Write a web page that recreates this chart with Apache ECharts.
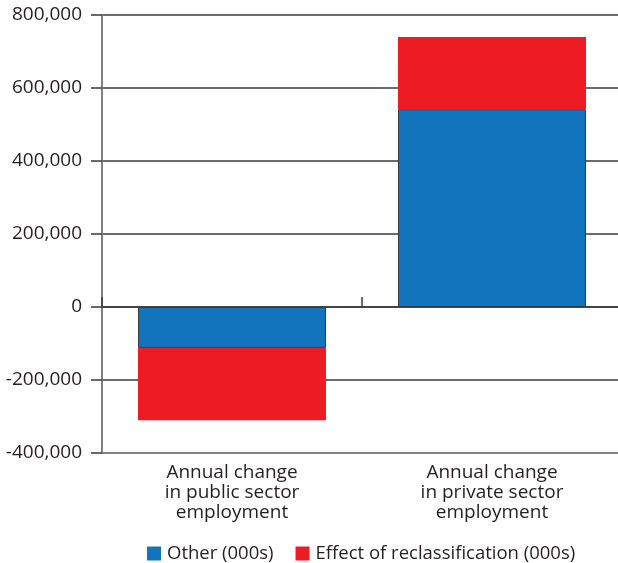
<!DOCTYPE html>
<html>
<head>
<meta charset="utf-8">
<style>
  html, body { margin: 0; padding: 0; background: #ffffff; overflow: hidden; }
  #chart { width: 622px; height: 563px; }
</style>
<script src="https://cdn.jsdelivr.net/npm/echarts@6/dist/echarts.min.js"></script>
</head>
<body>
<div id="chart"></div>
<script>
// Categories on the x axis
const categories = [
  'Annual change\nin public sector\nemployment',
  'Annual change\nin private sector\nemployment'
];
// Series values (people)
const otherValues = [-112000, 542000];
const reclassValues = [-198000, 198000];
// Value axis range
const yMin = -400000;
const yMax = 800000;
const yStep = 200000;

const FONT = '"Open Sans", "Noto Sans", sans-serif';
const TEXT = '#231f20';

// The plot runs slightly past the right edge of the visible page.
const chart = echarts.init(document.getElementById('chart'));
chart.setOption({
  animation: false,
  grid: { left: 102, right: 0, top: 15, height: 438, containLabel: false },
  legend: {
    top: 539,
    left: 142,
    itemWidth: 14,
    itemHeight: 14,
    itemGap: 22,
    icon: 'rect',
    textStyle: { fontFamily: FONT, fontSize: 18.5, color: TEXT, padding: [0, 0, 0, 1] },
    itemStyle: { borderWidth: 0 },
    data: ['Other (000s)', 'Effect of reclassification (000s)']
  },
  xAxis: [
    {
      type: 'category',
      data: categories,
      position: 'bottom',
      axisLine: { onZero: false, lineStyle: { color: '#808080', width: 2 } },
      axisTick: { show: false },
      axisLabel: {
        fontFamily: FONT, fontSize: 19, color: TEXT, lineHeight: 20,
        margin: 10, align: 'center'
      }
    },
    {
      type: 'category',
      data: categories,
      position: 'bottom',
      axisLine: { onZero: true, lineStyle: { color: '#3a3a3a', width: 1.5 } },
      axisTick: { show: true, inside: true, length: 10, lineStyle: { color: '#3a3a3a', width: 1.5 } },
      axisLabel: { show: false },
      splitLine: { show: false }
    }
  ],
  yAxis: {
    type: 'value',
    min: yMin,
    max: yMax,
    interval: yStep,
    axisLine: { show: true, lineStyle: { color: '#808080', width: 2 } },
    axisTick: { show: true, length: 11, lineStyle: { color: '#3a3a3a', width: 1.5 } },
    axisLabel: {
      fontFamily: FONT, fontSize: 19, color: TEXT, margin: 20,
      formatter: v => v.toLocaleString('en-US')
    },
    splitLine: { show: true, lineStyle: { color: '#3a3a3a', width: 1.5 } }
  },
  series: [
    {
      name: 'Other (000s)',
      type: 'bar',
      stack: 'total',
      xAxisIndex: 0,
      barWidth: '72.3%',
      data: otherValues,
      itemStyle: { color: '#1174bc', borderColor: '#3a3a3a', borderWidth: 1 }
    },
    {
      name: 'Effect of reclassification (000s)',
      type: 'bar',
      stack: 'total',
      xAxisIndex: 0,
      barWidth: '72.3%',
      data: reclassValues,
      itemStyle: { color: '#ed1c24' }
    }
  ]
});
</script>
</body>
</html>
